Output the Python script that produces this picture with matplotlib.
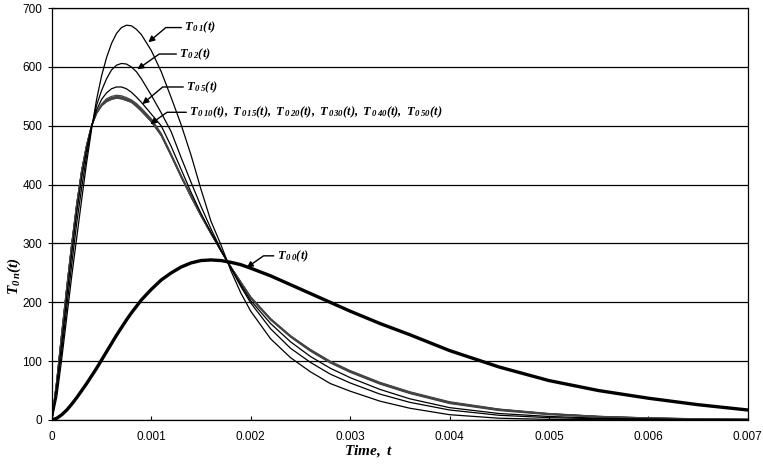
import matplotlib
matplotlib.use("Agg")
import matplotlib.pyplot as plt

plt.rcParams['mathtext.fontset'] = 'custom'
plt.rcParams['mathtext.it'] = 'Liberation Serif:italic:bold'
plt.rcParams['mathtext.rm'] = 'Liberation Serif:italic:bold'
plt.rcParams['mathtext.bf'] = 'Liberation Serif:italic:bold'

# time grid (s)
t = [0, 0.00005, 0.0001, 0.00015, 0.0002, 0.00025, 0.0003, 0.00035, 0.0004, 0.00045,
     0.0005, 0.00055, 0.0006, 0.00065, 0.0007, 0.00075, 0.0008, 0.00085, 0.0009, 0.001,
     0.0011, 0.0012, 0.0013, 0.0014, 0.0015, 0.0016, 0.0017, 0.0018, 0.0019, 0.002,
     0.0022, 0.0024, 0.0026, 0.0028, 0.003, 0.0033, 0.0036, 0.004, 0.0045, 0.005,
     0.0055, 0.006, 0.0065, 0.007]

T00 = [0, 3, 9, 17, 27, 38, 50, 62, 75, 88,
       102, 116, 130, 144, 157, 170, 182, 193, 204, 222,
       238, 250, 260, 267, 271, 272, 271, 268, 264, 258,
       245, 230, 215, 200, 185, 164, 145, 118, 90, 67,
       50, 37, 26, 17]
T01 = [0, 40, 105, 175, 245, 310, 375, 438, 495, 545,
       585, 616, 640, 657, 667, 671, 670, 664, 655, 628,
       592, 548, 502, 450, 392, 338, 298, 254, 216, 185,
       138, 106, 82, 62, 49, 32, 20, 9, 3, 1,
       0.5, 0.2, 0.1, 0]
T02 = [0, 50, 118, 192, 265, 335, 395, 450, 498, 535,
       560, 580, 595, 603, 606, 605, 600, 592, 580, 552,
       522, 490, 446, 404, 363, 325, 290, 258, 227, 199,
       155, 122, 98, 78, 63, 44, 30, 17, 8, 4,
       2, 1, 0.5, 0.2]
T05 = [0, 60, 130, 208, 283, 352, 412, 460, 500, 527,
       545, 556, 563, 566, 566, 563, 557, 549, 540, 520,
       500, 465, 426, 387, 351, 319, 288, 259, 230, 203,
       164, 133, 108, 88, 72, 52, 36, 21, 11, 6,
       3, 1.5, 0.7, 0.3]
T010 = [0, 65, 145, 222, 296, 364, 422, 466, 500, 523,
        537, 546, 550, 552, 551, 548, 544, 538, 530, 512,
        487, 452, 416, 382, 349, 318, 288, 260, 233, 207,
        170, 141, 117, 97, 81, 61, 45, 28, 16, 9,
        5, 3, 1.5, 0.7]
T015 = [0, 66, 146, 223, 297, 365, 423, 466, 500, 522,
        536, 544, 548, 550, 549, 546, 543, 536, 528, 510,
        486, 451, 415, 381, 348, 318, 288, 260, 234, 208,
        171, 142, 118, 98, 82, 62, 46, 29, 17, 10,
        5.5, 3, 1.6, 0.8]
T020 = [0, 67, 147, 224, 298, 366, 423, 467, 500, 522,
        535, 543, 547, 549, 548, 545, 542, 535, 527, 509,
        485, 450, 414, 380, 348, 317, 288, 260, 234, 208,
        171, 142, 118, 98, 82, 62, 46, 29, 17, 10,
        5.5, 3.1, 1.7, 0.9]
T030 = [0, 67, 148, 225, 299, 366, 424, 467, 501, 522,
        535, 542, 546, 548, 547, 544, 541, 534, 526, 508,
        484, 450, 414, 380, 347, 317, 288, 260, 234, 209,
        172, 143, 119, 99, 83, 63, 47, 30, 18, 10.5,
        6, 3.3, 1.8, 1.0]
T040 = [0, 68, 148, 225, 299, 367, 424, 467, 501, 521,
        534, 541, 545, 547, 546, 543, 540, 533, 525, 507,
        484, 449, 413, 379, 347, 317, 288, 260, 234, 209,
        172, 143, 119, 99, 83, 63, 47, 30, 18, 10.5,
        6, 3.4, 1.9, 1.1]
T050 = [0, 68, 149, 226, 300, 367, 424, 468, 501, 521,
        534, 541, 545, 547, 546, 543, 540, 533, 525, 507,
        483, 449, 413, 379, 347, 317, 288, 260, 235, 209,
        172, 143, 120, 100, 84, 64, 48, 31, 18.5, 11,
        6.2, 3.5, 2.0, 1.2]

xticks = [0, 0.001, 0.002, 0.003, 0.004, 0.005, 0.006, 0.007]
xticklabels = ["0", "0.001", "0.002", "0.003", "0.004", "0.005", "0.006", "0.007"]
yticks = [0, 100, 200, 300, 400, 500, 600, 700]

fig = plt.figure(figsize=(7.63, 4.68), dpi=100)
ax = fig.add_axes([0.068, 0.1026, 0.912, 0.880])

for yv in yticks:
    ax.axhline(yv, color='black', lw=0.9, zorder=1)

for s in [T010, T015, T020, T030, T040, T050]:
    ax.plot(t, s, color='#444444', lw=0.9, zorder=2)
ax.plot(t, T05, color='black', lw=0.9, zorder=3)
ax.plot(t, T02, color='black', lw=0.9, zorder=3)
ax.plot(t, T01, color='black', lw=0.9, zorder=3)
ax.plot(t, T00, color='black', lw=2.4, zorder=4)

ax.set_xlim(0, 0.007)
ax.set_ylim(0, 700)
ax.set_xticks(xticks)
ax.set_xticklabels(xticklabels)
ax.set_yticks(yticks)
for lab in ax.get_xticklabels() + ax.get_yticklabels():
    lab.set_fontfamily('Liberation Sans')
    lab.set_fontsize(8.5)
ax.tick_params(axis='x', direction='in', length=3, pad=8)
ax.tick_params(axis='y', direction='inout', length=6, pad=4)
for sp in ax.spines.values():
    sp.set_linewidth(0.9)

ax.set_xlabel("$Time,\\ t$", fontsize=11)
ax.xaxis.set_label_coords(0.455, -0.055)
ax.set_ylabel("$T_{0\\,n}(t)$", fontsize=11)
ax.yaxis.set_label_coords(-0.042, 0.35)

arrow = dict(arrowstyle='-|>', color='black', lw=1.0, mutation_scale=9, shrinkA=0, shrinkB=0)

def label(txt, xy, xytext, angB):
    ax.annotate(txt, xy=xy, xytext=xytext, fontsize=9, va='center', ha='left',
                arrowprops=dict(connectionstyle="angle,angleA=0,angleB=%d,rad=0" % angB, **arrow))

label("$T_{\\,0\\,1}(t)$", (0.00097, 642), (0.00133, 667), 40)
label("$T_{\\,0\\,2}(t)$", (0.00086, 596), (0.00128, 622), 35)
label("$T_{\\,0\\,5}(t)$", (0.00091, 537), (0.00135, 566), 40)
label("$T_{\\,0\\,10}(t),\\ T_{\\,0\\,15}(t),\\ T_{\\,0\\,20}(t),\\ T_{\\,0\\,30}(t),\\ T_{\\,0\\,40}(t),\\ T_{\\,0\\,50}(t)$",
      (0.00099, 503), (0.00138, 523), 35)
label("$T_{\\,0\\,0}(t)$", (0.00196, 259), (0.00226, 279), 35)

fig.savefig("out.png", dpi=100)
